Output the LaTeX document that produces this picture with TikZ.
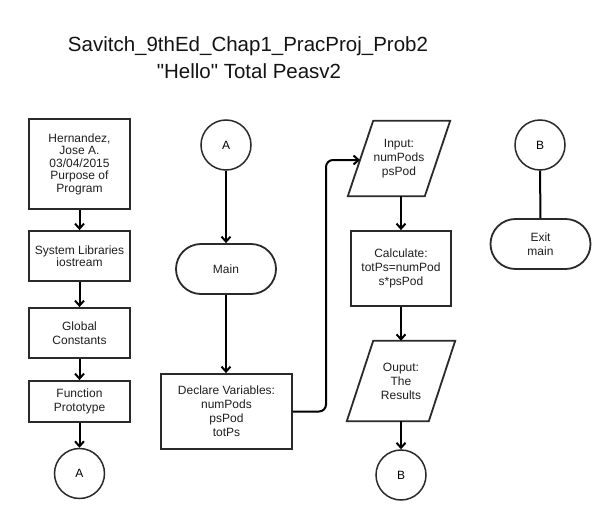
\documentclass[tikz,border=0pt]{standalone}
\usepackage{fontspec}
\setmainfont{Liberation Sans}
\newfontfamily\titlefam{Liberation Sans}[Ligatures=TeXOff]
\usetikzlibrary{arrows.meta}
\definecolor{edge}{HTML}{2A2A2A}
\tikzset{
  shapeline/.style={draw=edge, line width=1.8pt, fill=white},
  txt/.style={font=\fontsize{12}{14}\selectfont, text=black!88, align=center},
  boxnode/.style={shapeline, txt, rectangle, inner sep=0pt},
  termnode/.style={shapeline, txt, rectangle, rounded corners=25pt, minimum width=100pt, minimum height=50pt, inner sep=0pt},
  connnode/.style={draw=edge, line width=1.5pt, fill=white, circle, minimum size=50pt, inner sep=0pt, font=\fontsize{12}{14}\selectfont},
  hidden/.style={rectangle, inner sep=0pt, txt},
  conn/.style={draw=black, line width=2pt, -{Straight Barb[length=5pt,width=9pt]}},
  plain/.style={draw=black, line width=2pt},
  titlefont/.style={font=\titlefam\fontsize{20.5}{27}\selectfont, text=black!92}
}
\begin{document}
\begin{tikzpicture}[x=1pt,y=-1pt]
\useasboundingbox[fill=white] (0,0) rectangle (611,519);
% title
\node[titlefont, anchor=base] (t1) at (248,52) {Savitch\_9thEd\_Chap1\_PracProj\_Prob2};
\node[titlefont, anchor=base] (t2) at (249,79) {"Hello" Total Peasv2};
% left column
\node[boxnode, minimum width=101pt, minimum height=90pt, font=\fontsize{12}{12.5}\selectfont] (h1) at (79.5,164) {Hernandez,\\Jose A.\\03/04/2015\\Purpose of\\Program};
\node[boxnode, minimum width=101pt, minimum height=50pt, font=\fontsize{12}{12.5}\selectfont] (h2) at (79.5,256) {System Libraries\\iostream};
\node[boxnode, minimum width=101pt, minimum height=50pt] (h3) at (79.5,333) {Global\\Constants};
\node[boxnode, minimum width=101pt, minimum height=41pt] (h4) at (79.5,401.5) {Function\\Prototype};
\node[connnode] (a1) at (79.5,473.5) {A};
\draw[conn] (h1) -- (h2);
\draw[conn] (h2) -- (h3);
\draw[conn] (h3) -- (h4);
\draw[conn] (h4) -- (a1);
% middle column
\node[connnode] (a2) at (226,145) {A};
\node[termnode] (main) at (226,269) {Main};
\node[boxnode, minimum width=131pt, minimum height=75pt] (decl) at (226.5,411.5) {Declare Variables:\\numPods\\psPod\\totPs};
\draw[conn] (a2) -- (main);
\draw[conn] (main) -- (decl.north -| main);
% right column
\node[hidden, minimum width=102pt, minimum height=75pt] (inp) at (399,158.5) {};
\draw[shapeline] (inp.south west) -- ++(77,0) -- (inp.north east) -- ++(-77,0) -- cycle;
\node[hidden] at (inp.center) {Input:\\numPods\\psPod};
\coordinate (inpL) at (360,160);
\coordinate (bend) at (326,160);
\draw[conn, rounded corners=7pt] (decl.east) -| (bend) -- (inpL);
\node[boxnode, minimum width=100pt, minimum height=75pt] (calc) at (401,268.5) {Calculate:\\totPs=numPod\\s*psPod};
\draw[conn] (inp.south -| calc) -- (calc.north);
\node[hidden, minimum width=108pt, minimum height=80pt] (out) at (401,381) {};
\draw[shapeline] (out.south west) -- ++(82,0) -- (out.north east) -- ++(-82,0) -- cycle;
\node[hidden] at (out.center) {Ouput:\\The\\Results};
\draw[conn] (calc) -- (out.north -| calc);
\node[connnode] (b1) at (401,475) {B};
\draw[conn] (out.south -| calc) -- (b1);
% far right
\node[connnode] (b2) at (540,145) {B};
\node[termnode] (exit) at (540.5,244) {Exit\\main};
\draw[plain] (b2) -- (exit);
\end{tikzpicture}
\end{document}
